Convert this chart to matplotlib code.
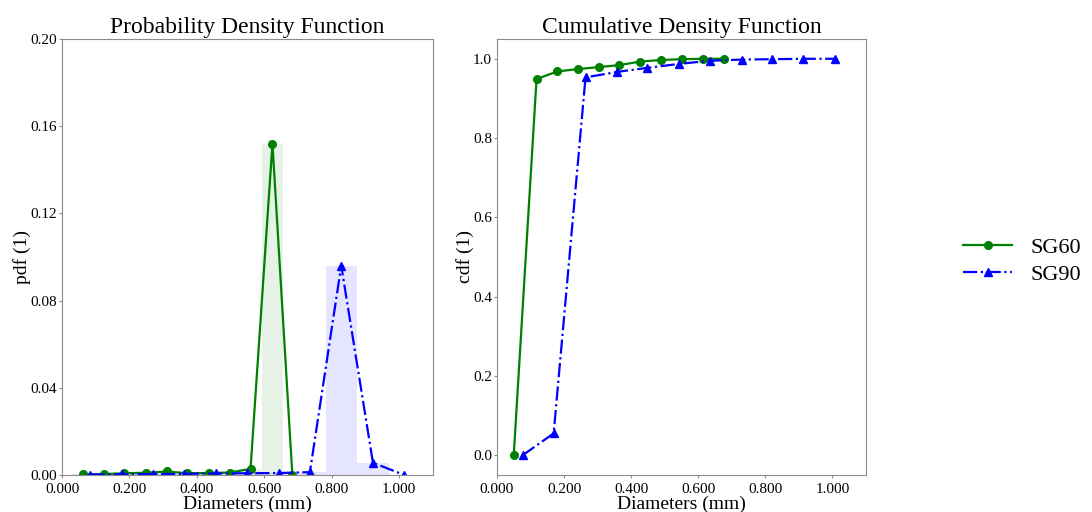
import matplotlib.pyplot as plt
import numpy as np

plt.rcParams['font.family'] = ['Liberation Serif', 'DejaVu Serif']

# pdf data
x_pdf_sg60 = [0.062, 0.123, 0.185, 0.249, 0.311, 0.371, 0.435, 0.497, 0.559, 0.624, 0.683]
pdf_sg60 = [0.0003, 0.0004, 0.0008, 0.0010, 0.0016, 0.0008, 0.0009, 0.0011, 0.0028, 0.152, 0.0]
x_pdf_sg90 = [0.084, 0.177, 0.270, 0.363, 0.456, 0.549, 0.642, 0.735, 0.828, 0.922, 1.015]
pdf_sg90 = [0.0002, 0.0003, 0.0004, 0.0005, 0.0007, 0.0008, 0.0009, 0.0013, 0.096, 0.0056, 0.0]

# cdf data
x_cdf_sg60 = [0.050, 0.118, 0.180, 0.241, 0.303, 0.365, 0.427, 0.489, 0.552, 0.614, 0.676]
cdf_sg60 = [0.0, 0.949, 0.968, 0.974, 0.979, 0.984, 0.993, 0.997, 0.999, 1.0, 1.0]
x_cdf_sg90 = [0.077, 0.169, 0.264, 0.359, 0.447, 0.542, 0.634, 0.729, 0.821, 0.913, 1.007]
cdf_sg90 = [0.0, 0.055, 0.953, 0.967, 0.977, 0.987, 0.995, 0.998, 0.999, 1.0, 1.0]

bw_sg60 = 0.0625
bw_sg90 = 0.093

xticks = [0, 0.2, 0.4, 0.6, 0.8, 1.0]
xticklabels = ['0.000', '0.200', '0.400', '0.600', '0.800', '1.000']

fig = plt.figure(figsize=(10.92, 5.12), dpi=100)
ax1 = fig.add_axes([0.0568, 0.0723, 0.3397, 0.8516])
ax2 = fig.add_axes([0.4551, 0.0723, 0.3379, 0.8516])

# pdf
ax1.bar(x_pdf_sg60, pdf_sg60, width=bw_sg60, color='green', alpha=0.1)
ax1.bar(x_pdf_sg90, pdf_sg90, width=bw_sg90, color='blue', alpha=0.1)
ax1.plot(x_pdf_sg60, pdf_sg60, 'g-o', lw=1.6, ms=5.5, label='SG60')
ax1.plot(x_pdf_sg90, pdf_sg90, 'b-.^', lw=1.6, ms=5.5, label='SG90')
ax1.set_xlim(0, 1.1)
ax1.set_ylim(0, 0.2)
ax1.set_yticks([0.0, 0.04, 0.08, 0.12, 0.16, 0.20])
ax1.set_yticklabels(['0.00', '0.04', '0.08', '0.12', '0.16', '0.20'])
ax1.set_xticks(xticks)
ax1.set_xticklabels(xticklabels)
ax1.set_title('Probability Density Function', fontsize=17, pad=4)
ax1.set_xlabel('Diameters (mm)', fontsize=14, labelpad=0)
ax1.set_ylabel('pdf (1)', fontsize=14, labelpad=0)

# cdf
ax2.plot(x_cdf_sg60, cdf_sg60, 'g-o', lw=1.6, ms=5.5)
ax2.plot(x_cdf_sg90, cdf_sg90, 'b-.^', lw=1.6, ms=5.5)
ax2.set_xlim(0, 1.1)
ax2.set_ylim(-0.05, 1.05)
ax2.set_xticks(xticks)
ax2.set_xticklabels(xticklabels)
ax2.set_title('Cumulative Density Function', fontsize=17, pad=4)
ax2.set_xlabel('Diameters (mm)', fontsize=14, labelpad=0)
ax2.set_ylabel('cdf (1)', fontsize=14, labelpad=-1)

for ax in (ax1, ax2):
    for s in ax.spines.values():
        s.set_color('0.55')
    ax.tick_params(labelsize=11, color='0.55', length=2, pad=1.5)
    ax.tick_params(axis='x', pad=3.5)

fig.legend(loc='center left', bbox_to_anchor=(0.864, 0.49), fontsize=16,
           frameon=False, handlelength=2.2, handletextpad=0.8, labelspacing=0.3)

plt.savefig('out.png')
